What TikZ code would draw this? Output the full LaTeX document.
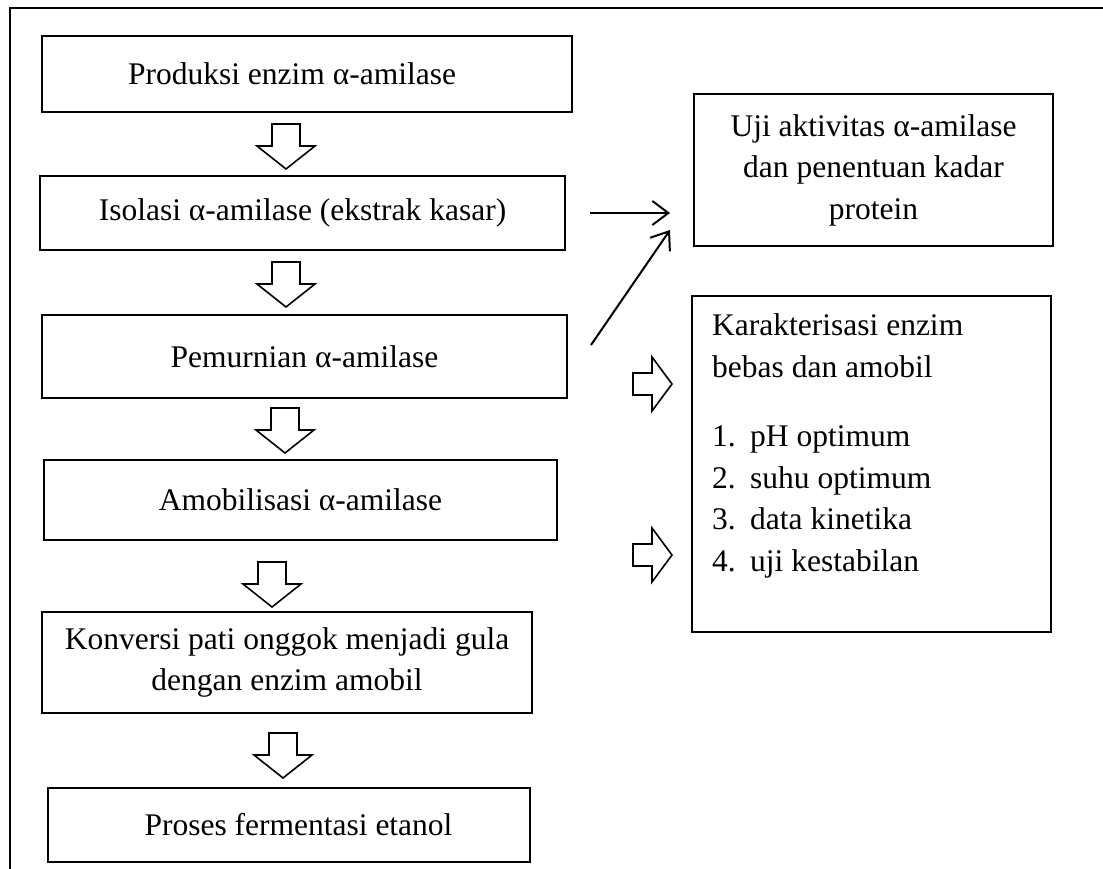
\documentclass[tikz,border=0pt]{standalone}
\usepackage{fontspec}
\setmainfont{Liberation Serif}
\usetikzlibrary{arrows.meta}
\begin{document}
\begin{tikzpicture}[x=1pt,y=-1pt,
  txt/.style={font=\fontsize{31.5}{41.5}\selectfont},
  box/.style={txt, draw, line width=1.3pt, inner sep=0pt, align=center},
  thinarrow/.style={line width=2pt, -{Straight Barb[length=16pt,width=24pt,line width=2pt]}},
  hollow/.style={draw, line width=1.6pt, line join=miter},
  downarrow/.pic={\draw[hollow] (-14,0) -- (14,0) -- (14,22) -- (29,22) -- (0,45) -- (-29,22) -- (-14,22) -- cycle;},
  rightarrow/.pic={\draw[hollow] (0,-11) -- (19,-11) -- (19,-27) -- (39,0) -- (19,27) -- (19,11) -- (0,11) -- cycle;}]
\useasboundingbox (0,0) rectangle (1103,869);
\draw[line width=1.5pt] (10,869) -- (10,8) -- (1103,8);

% left column
\node[box, minimum width=530pt, minimum height=76pt] (b1) at (307,74) {Produksi enzim α-amilase\hspace*{30pt}};
\node[box, minimum width=525pt, minimum height=74pt] (b2) at (302.5,213) {Isolasi α-amilase (ekstrak kasar)};
\node[box, minimum width=525pt, minimum height=83pt] (b3) at (304.5,356.5) {Pemurnian α-amilase};
\node[box, minimum width=513pt, minimum height=80pt] (b4) at (300.5,500) {Amobilisasi α-amilase};
\node[box, minimum width=490pt, minimum height=101pt] (b5) at (287,662.5) {Konversi pati onggok menjadi gula\\dengan enzim amobil};
\node[box, minimum width=482pt, minimum height=74pt] (b6) at (289,825) {\hspace*{19pt}Proses fermentasi etanol};

% right column
\node[box, minimum width=359pt, minimum height=152pt] (uji) at (873.5,170) {Uji aktivitas α-amilase\\dan penentuan kadar\\protein};
\node[box, minimum width=359pt, minimum height=336pt] (kar) at (871.5,464) {};
\node[txt, align=left, anchor=north west, inner sep=0pt] (kartext) at (712,313.5)
  {Karakterisasi enzim\\bebas dan amobil\\[28pt]\makebox[38pt][l]{1.}pH optimum\\\makebox[38pt][l]{2.}suhu optimum\\\makebox[38pt][l]{3.}data kinetika\\\makebox[38pt][l]{4.}uji kestabilan};

% hollow arrows
\pic at (286,124) {downarrow};
\pic at (286,262) {downarrow};
\pic at (285,408) {downarrow};
\pic at (272,562) {downarrow};
\pic at (283,733) {downarrow};
\pic at (633,384) {rightarrow};
\pic at (633,555) {rightarrow};

% thin arrows
\coordinate (s1) at (590,213);
\coordinate (e1) at (670,213);
\coordinate (s2) at (591,345);
\coordinate (e2) at (670,230);
\draw[thinarrow] (s1) -- (e1);
\draw[thinarrow] (s2) -- (e2);
\end{tikzpicture}
\end{document}
